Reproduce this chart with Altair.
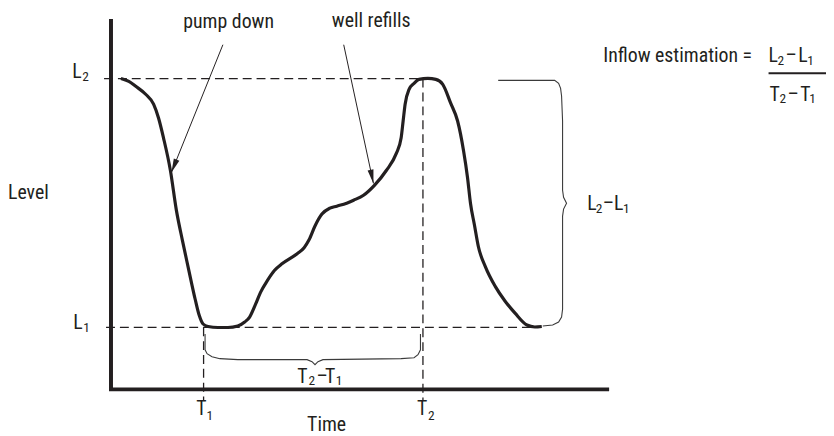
import math
import altair as alt
import pandas as pd

# ---------------- data (time / level units; axis origin = 0,0) ----------------
curve_time = [10, 18, 25, 35, 43, 48, 53, 60, 66, 72, 78, 85, 89, 93, 98, 108, 118, 128, 135, 140,
              146, 151, 158, 165, 173, 188, 195, 200, 206, 213, 221, 228, 238, 245, 255, 266, 278,
              288, 293, 295, 297, 301, 306, 311, 320, 328, 335, 343, 350, 356, 360, 363, 367, 371,
              378, 388, 398, 408, 420, 428, 435]
curve_level = [313, 310, 305, 297, 287, 273, 253, 220, 180, 150, 122, 90, 74, 65, 62.5, 61.5, 61.5,
               63, 67, 72, 85, 97, 109, 119, 126, 136, 142, 150, 164, 176, 182, 184, 187, 190, 195,
               205, 220, 237, 253, 270, 287, 302, 308, 312, 313, 312, 307, 288, 270, 240, 213, 187,
               165, 143, 123, 103, 88, 76, 64, 62, 62.5]

frame_time = [0, 0, 503]
frame_level = [373, -1, -1]

L2, L1 = 312.7, 61.7
T1, T2 = 93.5, 315
guide_t = [-7, -5, T1, T2]
guide_t2 = [318, 428, T1, T2]
guide_l = [L2, L1, L1, L2]
guide_l2 = [L2, L1, -12, -12]

arrow_name = ["pump down", "well refills"]
arrow_start_t = [113, 235]
arrow_start_l = [347, 347]
arrow_tip_t = [61, 265]
arrow_tip_l = [218, 207]

brace_L_t = [391, 448, 452, 454, 455, 456, 456, 457, 460, 457, 456, 456, 455, 452, 446, 436]
brace_L_l = [311, 311, 308, 303, 295, 270, 200, 193, 187, 181, 174, 80, 72, 67, 64, 63]
brace_T_t = [95, 95, 97, 102, 110, 128, 198, 203, 206, 209, 214, 293, 306, 310, 312.5, 312.5]
brace_T_l = [55, 39, 35, 32, 30, 29, 29, 27, 24, 27, 29, 30, 31, 34, 39, 55]

main_text = ["L", "L", "T", "T", "Time", "Level", "pump down", "well refills",
             "L", "\u2013", "L", "Inflow estimation =",
             "L", "\u2013", "L", "T", "\u2013", "T", "T", "\u2013", "T"]
main_t = [-39, -38, 86, 309, 198, -104, 73, 223,
          481, 496.5, 508, 497,
          664, 681, 694, 665, 683, 696, 188, 207.5, 216]
main_l = [313, 60, -27, -27, -43, 191, 364, 365,
          180, 180, 180, 330,
          330, 330, 330, 290, 290, 290, 5, 5, 5]

sub_text = ["2", "1", "1", "2", "2", "1", "2", "1", "2", "1", "2", "1"]
sub_t = [-29, -28, 96.5, 320, 489.5, 517, 673, 703, 675, 705, 199.5, 227]
sub_l = [310, 57, -32, -32, 177, 177, 327, 327, 288, 288, 3, 3]

bar_t, bar_t2, bar_l = [664], [722], [318.3]

# ---------------- tables ----------------
curve_df = pd.DataFrame({"t": curve_time, "lvl": curve_level})
frame_df = pd.DataFrame({"t": frame_time, "lvl": frame_level, "o": range(len(frame_time))})
guide_df = pd.DataFrame({"t": guide_t, "t2": guide_t2, "lvl": guide_l, "lvl2": guide_l2})
arrow_df = pd.DataFrame({"name": arrow_name, "t": arrow_start_t, "lvl": arrow_start_l,
                         "t2": arrow_tip_t, "lvl2": arrow_tip_l})
HEAD = 7.0
heads = []
for a, b, c, d in zip(arrow_start_t, arrow_start_l, arrow_tip_t, arrow_tip_l):
    dx, dy = c - a, d - b
    n = math.hypot(dx, dy)
    ang = math.degrees(math.atan2(-dx, -dy)) % 360
    heads.append({"t": c - HEAD * dx / n, "lvl": d - HEAD * dy / n, "ang": ang})
head_df = pd.DataFrame(heads)
brace_df = pd.concat([
    pd.DataFrame({"t": brace_L_t, "lvl": brace_L_l, "b": "L", "o": range(len(brace_L_t))}),
    pd.DataFrame({"t": brace_T_t, "lvl": brace_T_l, "b": "T", "o": range(len(brace_T_t))}),
])
main_df = pd.DataFrame({"t": main_t, "lvl": main_l, "text": main_text})
sub_df = pd.DataFrame({"t": sub_t, "lvl": sub_l, "text": sub_text})
bar_df = pd.DataFrame({"t": bar_t, "t2": bar_t2, "lvl": bar_l})

# ---------------- chart ----------------
INK = "#231f20"
FONT = "Roboto Condensed, Roboto, sans-serif"
xs = alt.Scale(domain=[-104, 722], nice=False, zero=False)
ys = alt.Scale(domain=[-46, 382], nice=False, zero=False)
X = alt.X("t:Q", scale=xs, axis=None)
Y = alt.Y("lvl:Q", scale=ys, axis=None)

frame = alt.Chart(frame_df).mark_line(color=INK, strokeWidth=4, strokeJoin="miter", strokeCap="butt").encode(
    x=X, y=Y, order="o:Q")
curve = alt.Chart(curve_df).mark_line(color=INK, strokeWidth=3.2, interpolate="monotone").encode(x=X, y=Y)
guides = alt.Chart(guide_df).mark_rule(color=INK, strokeWidth=1.3, strokeDash=[9, 5]).encode(
    x=X, y=Y, x2="t2:Q", y2="lvl2:Q")
arrows = alt.Chart(arrow_df).mark_rule(color=INK, strokeWidth=1).encode(x=X, y=Y, x2="t2:Q", y2="lvl2:Q")
heads_l = alt.Chart(head_df).mark_point(shape="M0,1L-0.43,-1L0.43,-1Z", filled=True, size=196,
                                          color=INK, opacity=1, strokeWidth=0).encode(
    x=X, y=Y, angle=alt.Angle("ang:Q", scale=None))
braces = alt.Chart(brace_df).mark_line(color="#3a3a3a", strokeWidth=1.1).encode(
    x=X, y=Y, detail="b:N", order="o:Q")
bar = alt.Chart(bar_df).mark_rule(color=INK, strokeWidth=2).encode(x=X, y=Y, x2="t2:Q")
main_txt = alt.Chart(main_df).mark_text(align="left", baseline="alphabetic", font=FONT, fontSize=20,
                                         color=INK).encode(x=X, y=Y, text="text:N")
sub_txt = alt.Chart(sub_df).mark_text(align="left", baseline="alphabetic", font=FONT, fontSize=13.5,
                                       color=INK).encode(x=X, y=Y, text="text:N")

chart = alt.layer(guides, braces, arrows, heads_l, curve, frame, bar, main_txt, sub_txt).properties(
    width=826, height=428, padding=0, autosize="none", background="white"
).configure_view(stroke=None)

chart.save("out.html", embed_options={"renderer": "svg", "actions": False})
